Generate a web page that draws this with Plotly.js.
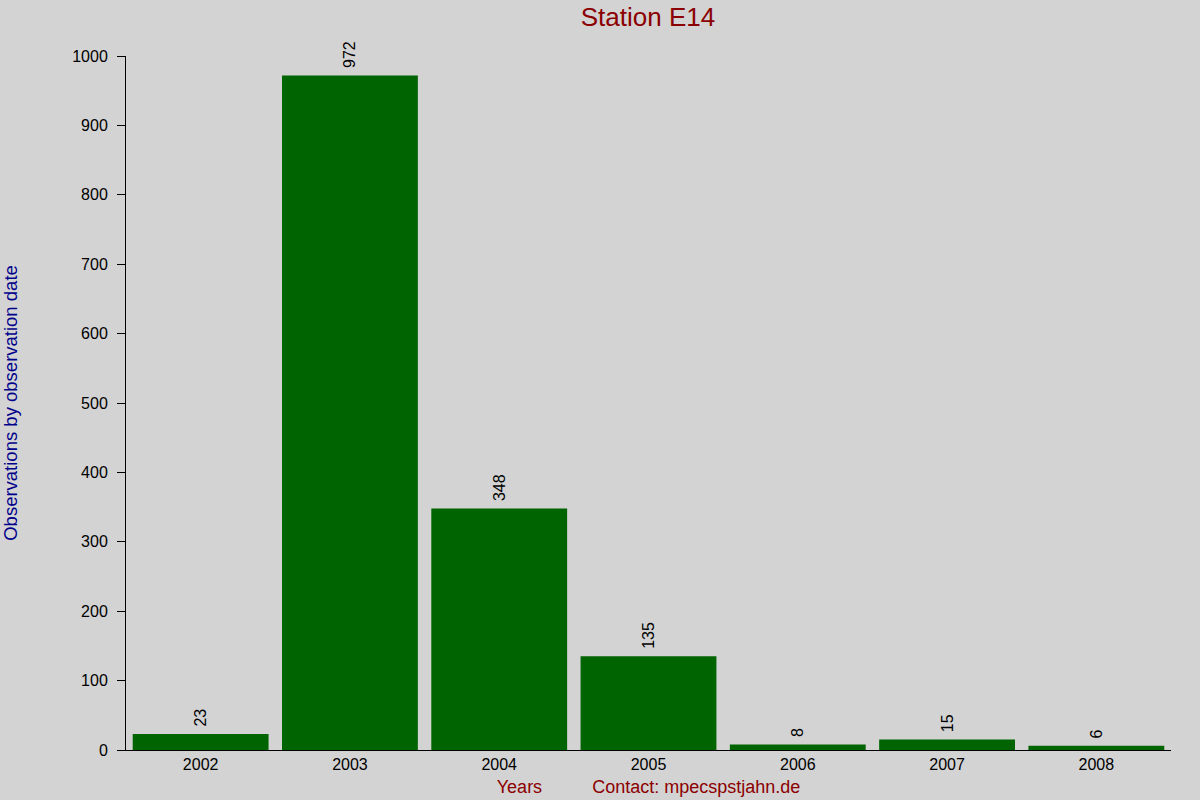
<!DOCTYPE html>
<html>
<head>
<meta charset="utf-8">
<script src="https://cdn.plot.ly/plotly-3.0.1.min.js"></script>
<style>
  body { margin: 0; background: #d3d3d3; }
  #chart { width: 1200px; height: 800px; }
</style>
</head>
<body>
<div id="chart"></div>
<script>
var years = ['2002', '2003', '2004', '2005', '2006', '2007', '2008'];
var counts = [23, 972, 348, 135, 8, 15, 6];
var yTicks = [0, 100, 200, 300, 400, 500, 600, 700, 800, 900, 1000];

var trace = {
  x: years,
  y: counts,
  type: 'bar',
  marker: { color: '#006400' },
  // a little padding between the bar top and the rotated label
  text: counts.map(function (c) { return '\u00a0' + c; }),
  textposition: 'outside',
  textangle: -90,
  cliponaxis: false,
  textfont: { family: 'Liberation Sans, Arial', size: 16, color: '#000' },
  hoverinfo: 'none'
};

var layout = {
  width: 1200,
  height: 800,
  paper_bgcolor: '#d3d3d3',
  plot_bgcolor: '#d3d3d3',
  margin: { l: 126, r: 29, t: 56, b: 50 },
  bargap: 0.09,
  showlegend: false,
  font: { family: 'Liberation Sans, Arial', size: 16, color: '#000' },
  title: {
    text: 'Station E14',
    font: { size: 26, color: '#8b0000' },
    x: 0.54, xanchor: 'center',
    y: 0.979, yanchor: 'middle'
  },
  xaxis: {
    type: 'category',
    showline: true, linecolor: '#000', linewidth: 1,
    ticks: '', showgrid: false, zeroline: false,
    tickfont: { size: 16 },
    title: {
      text: 'Years\u00a0\u00a0\u00a0\u00a0\u00a0\u00a0\u00a0\u00a0\u00a0\u00a0Contact: mpecspstjahn.de',
      font: { size: 18, color: '#8b0000' },
      standoff: 8
    }
  },
  yaxis: {
    range: [0, 1000],
    tickvals: yTicks,
    showline: true, linecolor: '#000', linewidth: 1,
    ticks: 'outside', ticklen: 8, tickcolor: '#000',
    ticklabelstandoff: 6,
    showgrid: false, zeroline: false,
    tickfont: { size: 16 },
    title: {
      text: 'Observations by observation date',
      font: { size: 18.5, color: '#00008b' },
      standoff: 58
    }
  }
};

Plotly.newPlot('chart', [trace], layout, { displayModeBar: false, staticPlot: true });
</script>
</body>
</html>
